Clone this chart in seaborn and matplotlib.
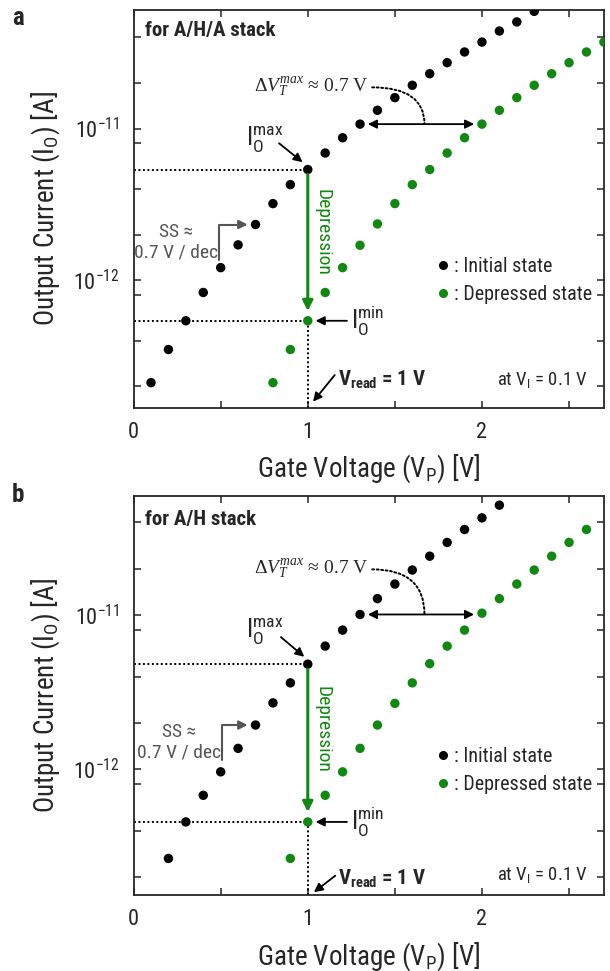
import numpy as np
import pandas as pd
import seaborn as sns
import matplotlib
matplotlib.use("Agg")
import matplotlib.pyplot as plt
from matplotlib import font_manager
from matplotlib.lines import Line2D
from matplotlib.ticker import FixedLocator, LogFormatterSciNotation, MultipleLocator, NullFormatter

# Transfer curves (gate voltage in V, output current in A)
vg_init_a = [0.1, 0.2, 0.3, 0.4, 0.5, 0.6, 0.7, 0.8, 0.9, 1.0, 1.1, 1.2,
             1.3, 1.4, 1.5, 1.6, 1.7, 1.8, 1.9, 2.0, 2.1, 2.2, 2.3]
io_init_a = [2.11e-13, 3.49e-13, 5.4e-13, 8.3e-13, 1.21e-12, 1.71e-12, 2.33e-12,
             3.2e-12, 4.27e-12, 5.37e-12, 6.9e-12, 8.7e-12, 1.07e-11, 1.32e-11,
             1.6e-11, 1.93e-11, 2.3e-11, 2.72e-11, 3.2e-11, 3.72e-11, 4.4e-11,
             5.05e-11, 5.93e-11]
vg_dep_a = [0.8, 0.9, 1.0, 1.1, 1.2, 1.3, 1.4, 1.5, 1.6, 1.7, 1.8, 1.9,
            2.0, 2.1, 2.2, 2.3, 2.4, 2.5, 2.6, 2.7]
io_dep_a = [2.11e-13, 3.49e-13, 5.4e-13, 8.3e-13, 1.21e-12, 1.7e-12, 2.35e-12,
            3.2e-12, 4.27e-12, 5.37e-12, 6.9e-12, 8.7e-12, 1.07e-11, 1.32e-11,
            1.6e-11, 1.93e-11, 2.3e-11, 2.72e-11, 3.2e-11, 3.72e-11]

vg_init_b = [0.2, 0.3, 0.4, 0.5, 0.6, 0.7, 0.8, 0.9, 1.0, 1.1, 1.2, 1.3,
             1.4, 1.5, 1.6, 1.7, 1.8, 1.9, 2.0, 2.1]
io_init_b = [2.65e-13, 4.57e-13, 6.8e-13, 9.65e-13, 1.37e-12, 1.94e-12, 2.7e-12,
             3.64e-12, 4.81e-12, 6.3e-12, 8e-12, 1.01e-11, 1.28e-11, 1.59e-11,
             1.96e-11, 2.41e-11, 2.96e-11, 3.59e-11, 4.27e-11, 5.16e-11]
vg_dep_b = [0.9, 1.0, 1.1, 1.2, 1.3, 1.4, 1.5, 1.6, 1.7, 1.8, 1.9, 2.0,
            2.1, 2.2, 2.3, 2.4, 2.5, 2.6]
io_dep_b = [2.65e-13, 4.57e-13, 6.8e-13, 9.65e-13, 1.37e-12, 1.94e-12, 2.68e-12,
            3.64e-12, 4.85e-12, 6.3e-12, 8e-12, 1.03e-11, 1.28e-11, 1.59e-11,
            1.96e-11, 2.41e-11, 2.96e-11, 3.59e-11]

state_labels = ["Initial state", "Depressed state"]
v_read = 1.0
minor_subs = [2, 4, 8]

GREEN = "#118811"
GRAY = "#555555"

sns.set_style("ticks")
# narrow sans like the original's Arial Narrow
names = {f.name for f in font_manager.fontManager.ttflist}
narrow = next(n for n in ["Roboto Condensed", "PT Sans Narrow", "Archivo Narrow", "Liberation Sans"]
              if n in names)
plt.rcParams["font.family"] = [narrow, "DejaVu Sans"]
plt.rcParams["mathtext.fontset"] = "custom"
plt.rcParams["mathtext.rm"] = narrow
plt.rcParams["mathtext.sf"] = narrow
plt.rcParams["mathtext.bf"] = narrow + ":bold"
plt.rcParams["mathtext.it"] = "Liberation Serif:italic"


def dotted(ax, xs, ys):
    ax.plot(xs, ys, color="k", ls=(0, (1, 1.3)), lw=1.4)


def arrow(ax, start, end, color="k", style="-|>", lw=1.3, ms=13, conn="arc3"):
    ax.annotate("", xy=end, xytext=start,
                arrowprops=dict(arrowstyle=style, color=color, lw=lw, mutation_scale=ms,
                                shrinkA=0, shrinkB=0, connectionstyle=conn))


def draw_panel(ax, vg_i, io_i, vg_d, io_d, title, ylim, pos):
    df = pd.concat([
        pd.DataFrame({"vg": vg_i, "io": io_i, "state": state_labels[0]}),
        pd.DataFrame({"vg": vg_d, "io": io_d, "state": state_labels[1]}),
    ])
    sns.scatterplot(data=df, x="vg", y="io", hue="state",
                    palette={state_labels[0]: "k", state_labels[1]: GREEN},
                    s=46, edgecolor="none", legend=False, ax=ax, zorder=3)

    ax.set_yscale("log")
    ax.set_xlim(0, 2.7)
    ax.set_ylim(*ylim)
    # only keep ticks inside the visible range
    decades = [10.0 ** k for k in range(-14, -9)]
    major = [d for d in decades if ylim[0] <= d <= ylim[1]]
    minor = [d * s for d in decades for s in minor_subs if ylim[0] <= d * s <= ylim[1]]
    ax.yaxis.set_major_locator(FixedLocator(major))
    ax.yaxis.set_major_formatter(LogFormatterSciNotation())
    ax.yaxis.set_minor_locator(FixedLocator(minor))
    ax.yaxis.set_minor_formatter(NullFormatter())
    ax.xaxis.set_major_locator(MultipleLocator(1))
    ax.xaxis.set_minor_locator(MultipleLocator(0.5))
    ax.tick_params(which="both", direction="in", top=True, right=True,
                   length=5, width=1.1, labelsize=16)
    ax.tick_params(axis="x", pad=10)
    ax.tick_params(axis="y", pad=10)
    for sp in ax.spines.values():
        sp.set_linewidth(1.3)
    ax.set_xlabel(r"Gate Voltage ($\mathrm{V_P}$) [V]", fontsize=19.5, labelpad=7)
    ax.set_ylabel(r"Output Current ($\mathrm{I_O}$) [A]", fontsize=19.5, labelpad=8)

    i_max = io_i[vg_i.index(v_read)]
    i_min = io_d[vg_d.index(v_read)]
    i_shift = io_i[vg_i.index(1.3)]
    i_ss = io_i[vg_i.index(0.7)]

    # guide lines at V_read
    dotted(ax, [0, v_read], [i_max, i_max])
    dotted(ax, [0, v_read], [i_min, i_min])
    dotted(ax, [v_read, v_read], [ylim[0], i_min])

    # depression arrow
    arrow(ax, (v_read, i_max * 0.93), (v_read, i_min * 1.16), color=GREEN, lw=2.2, ms=15)
    ax.text(1.085, pos["dep_y"], "Depression", rotation=270, color=GREEN,
            ha="center", va="center", fontsize=14)

    # threshold shift
    ax.text(1.35, pos["dv_y"], "Δ$V_T^{max}$ ≈ 0.7 V", family="Liberation Serif",
            ha="right", va="center", fontsize=14)
    ax.annotate("", xy=(1.67, i_shift), xytext=(1.37, pos["dv_y"]),
                arrowprops=dict(arrowstyle="-", ls=(0, (1, 1.3)), lw=1.4, color="k",
                                shrinkA=0, shrinkB=0,
                                connectionstyle="angle3,angleA=0,angleB=90"))
    arrow(ax, (1.345, i_shift), (1.955, i_shift), style="<|-|>", lw=1.3, ms=13)

    # I_O max / min labels
    ax.text(0.75, pos["imax_y"], r"$\mathrm{I_O^{max}}$", ha="center", va="center", fontsize=18)
    arrow(ax, pos["imax_a0"], pos["imax_a1"])
    ax.text(1.345, i_min, r"$\mathrm{I_O^{min}}$", ha="center", va="center", fontsize=18)
    arrow(ax, (1.225, i_min), (1.045, i_min))

    # subthreshold swing
    ax.text(pos["ss_x"], pos["ss_y"], "SS ≈\n0.7 V / dec", color=GRAY, ha="center",
            va="center", fontsize=14, linespacing=1.15)
    arrow(ax, (pos["ss_vx"], pos["ss_start"]), (0.655, i_ss), color=GRAY, lw=1.5,
          conn="angle,angleA=90,angleB=0,rad=0")

    # read voltage
    ax.text(1.175, pos["vr_y"], r"$\mathbf{V_{read}}$ = 1 V", fontweight="bold",
            ha="left", va="center", fontsize=15)
    arrow(ax, pos["vr_a0"], pos["vr_a1"])

    ax.text(0.965, pos["vi_y"], r"at $\mathrm{V_I}$ = 0.1 V", transform=ax.transAxes,
            ha="right", va="center", fontsize=13.5)
    ax.text(0.025, pos["title_y"], title, transform=ax.transAxes, fontweight="bold",
            ha="left", va="center", fontsize=15)

    handles = [Line2D([], [], marker="o", ls="", color="k", markersize=5.5),
               Line2D([], [], marker="o", ls="", color=GREEN, markersize=5.5)]
    ax.legend(handles, [": " + s for s in state_labels], loc="center left",
              bbox_to_anchor=pos["leg"], frameon=False, fontsize=14.5,
              handlelength=0.5, handletextpad=0.3, labelspacing=0.45, borderpad=0)


fig = plt.figure(figsize=(6.1, 9.71), dpi=100)
ax_a = fig.add_axes([0.219, 0.580, 0.771, 0.410])
ax_b = fig.add_axes([0.219, 0.078, 0.771, 0.411])

draw_panel(ax_a, vg_init_a, io_init_a, vg_dep_a, io_dep_a, "for A/H/A stack",
           (1.44e-13, 6.08e-11),
           dict(dep_y=2.07e-12, dv_y=1.87e-11, imax_y=8.4e-12,
                imax_a0=(0.835, 8.0e-12), imax_a1=(0.97, 6.0e-12),
                ss_x=0.245, ss_y=1.78e-12, ss_vx=0.49, ss_start=1.35e-12,
                vr_y=2.2e-13, vr_a0=(1.155, 2.37e-13), vr_a1=(1.03, 1.58e-13),
                vi_y=0.07, title_y=0.947, leg=(0.625, 0.32)))

draw_panel(ax_b, vg_init_b, io_init_b, vg_dep_b, io_dep_b, "for A/H stack",
           (1.53e-13, 5.9e-11),
           dict(dep_y=1.82e-12, dv_y=1.98e-11, imax_y=7.8e-12,
                imax_a0=(0.846, 7.2e-12), imax_a1=(0.98, 5.37e-12),
                ss_x=0.26, ss_y=1.5e-12, ss_vx=0.51, ss_start=1.15e-12,
                vr_y=1.95e-13, vr_a0=(1.158, 2.05e-13), vr_a1=(1.035, 1.6e-13),
                vi_y=0.05, title_y=0.942, leg=(0.625, 0.313)))

fig.text(0.03, 0.981, "a", fontsize=18, fontweight="bold", ha="center", va="center")
fig.text(0.03, 0.49, "b", fontsize=18, fontweight="bold", ha="center", va="center")

fig.savefig("out.png", dpi=100)
